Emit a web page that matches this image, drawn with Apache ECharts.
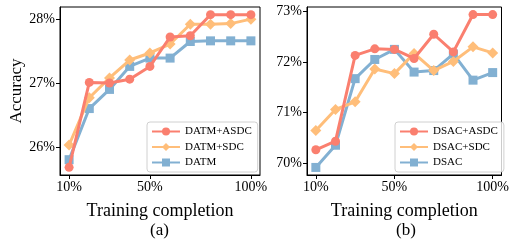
<!DOCTYPE html>
<html>
<head>
<meta charset="UTF-8">
<script src="https://cdn.jsdelivr.net/npm/echarts@6/dist/echarts.min.js"></script>
<style>html,body{margin:0;padding:0;background:#fff}</style>
</head>
<body>
<div id="main" style="width:512px;height:241px"></div>
<script>
var xs = [10, 20, 30, 40, 50, 60, 70, 80, 90, 100];
var xTicks = [10, 50, 100];

var datmAsdc = [25.68, 27.01, 27.00, 27.06, 27.26, 27.72, 27.74, 28.07, 28.07, 28.07];
var datmSdc  = [26.03, 26.77, 27.08, 27.36, 27.47, 27.61, 27.92, 27.92, 27.93, 28.00];
var datm     = [25.80, 26.60, 26.90, 27.26, 27.39, 27.39, 27.65, 27.66, 27.66, 27.66];
var leftTicks = [26, 27, 28];

var dsacAsdc = [70.26, 70.43, 72.13, 72.26, 72.25, 72.07, 72.55, 72.20, 72.94, 72.94];
var dsacSdc  = [70.64, 71.06, 71.21, 71.86, 71.77, 72.17, 71.83, 72.01, 72.30, 72.18];
var dsac     = [69.91, 70.35, 71.67, 72.05, 72.25, 71.80, 71.83, 72.16, 71.64, 71.79];
var rightTicks = [70, 71, 72, 73];

var colors = ['#FA7F6F', '#FFBE7A', '#82B0D2'];
var symbols = ['circle', 'diamond', 'rect'];
var sizes = [9, 11, 9];
var font = 'Liberation Serif';

function pairs(vals) {
  return vals.map(function (v, i) { return [xs[i], v]; });
}

function mkSeries(name, vals, k, idx) {
  return {
    type: 'line', name: name, data: pairs(vals),
    xAxisIndex: idx, yAxisIndex: idx,
    symbol: symbols[k], symbolSize: sizes[k], showSymbol: true,
    lineStyle: { width: 3, color: colors[k] },
    itemStyle: { color: colors[k] },
    z: 10 - k, animation: false
  };
}

function xAx(idx) {
  return {
    type: 'value', gridIndex: idx, min: 5.5, max: 104.5,
    name: 'Training completion', nameLocation: 'middle', nameGap: 27,
    nameTextStyle: { fontFamily: font, fontSize: 18, color: '#000' },
    axisLine: { show: true, lineStyle: { color: '#000', width: 1 } },
    axisTick: { show: true, length: 4, customValues: xTicks, lineStyle: { color: '#000' } },
    axisLabel: { customValues: xTicks, margin: 5, fontFamily: font, fontSize: 14, color: '#000',
      formatter: function (v) { return v + '%'; } },
    splitLine: { show: false }
  };
}

function yAx(idx, mn, mx, ticks, name) {
  return {
    type: 'value', gridIndex: idx, min: mn, max: mx,
    name: name, nameLocation: 'middle', nameGap: 33,
    nameTextStyle: { fontFamily: font, fontSize: 17, color: '#000' },
    axisLine: { show: true, lineStyle: { color: '#000', width: 1 } },
    axisTick: { show: true, length: 4, customValues: ticks, lineStyle: { color: '#000' } },
    axisLabel: { customValues: ticks, margin: 5, fontFamily: font, fontSize: 14, color: '#000',
      formatter: function (v) { return v + '%'; } },
    splitLine: { show: false }
  };
}

function legend(names, left) {
  return {
    data: names, left: left, top: 122, orient: 'vertical',
    itemWidth: 28, itemHeight: 10, itemGap: 4.5,
    padding: [4, 6, 4, 4],
    backgroundColor: 'rgba(255,255,255,0.8)',
    borderColor: '#d0d0d0', borderWidth: 1, borderRadius: 3,
    textStyle: { fontFamily: font, fontSize: 11, color: '#000' }
  };
}

var chart = echarts.init(document.getElementById('main'));
chart.setOption({
  animation: false,
  grid: [
    { left: 60, top: 7, width: 200, height: 168, show: true, borderColor: '#000', borderWidth: 1 },
    { left: 307, top: 7, width: 200, height: 168, show: true, borderColor: '#000', borderWidth: 1 }
  ],
  xAxis: [xAx(0), xAx(1)],
  yAxis: [yAx(0, 25.56, 28.19, leftTicks, 'Accuracy'), yAx(1, 69.76, 73.09, rightTicks, '')],
  legend: [
    legend(['DATM+ASDC', 'DATM+SDC', 'DATM'], 147),
    legend(['DSAC+ASDC', 'DSAC+SDC', 'DSAC'], 395)
  ],
  graphic: [
    { type: 'text', left: 150, top: 222, style: { text: '(a)', fontFamily: font, fontSize: 17, fill: '#000' } },
    { type: 'text', left: 396, top: 222, style: { text: '(b)', fontFamily: font, fontSize: 17, fill: '#000' } }
  ],
  series: [
    mkSeries('DATM+ASDC', datmAsdc, 0, 0),
    mkSeries('DATM+SDC', datmSdc, 1, 0),
    mkSeries('DATM', datm, 2, 0),
    mkSeries('DSAC+ASDC', dsacAsdc, 0, 1),
    mkSeries('DSAC+SDC', dsacSdc, 1, 1),
    mkSeries('DSAC', dsac, 2, 1)
  ]
});
</script>
</body>
</html>
